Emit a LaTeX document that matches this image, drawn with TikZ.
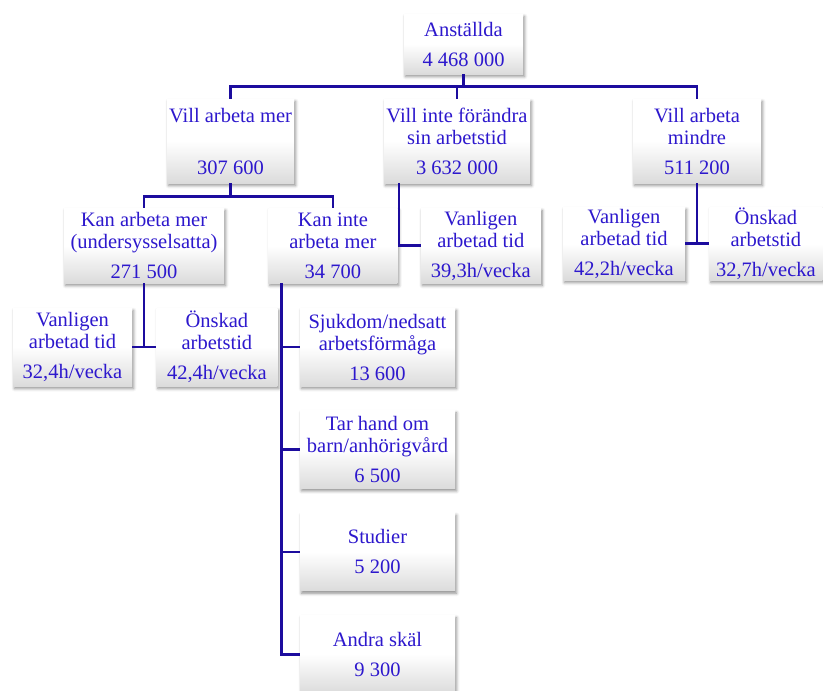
\documentclass[tikz,border=0pt]{standalone}
\usepackage{fontspec}
\setmainfont{Liberation Serif}
\usepackage{xcolor}
\usepackage{tikz}
\usetikzlibrary{shapes}
\usetikzlibrary{shadows}
\usetikzlibrary{shadows.blur}
\usetikzlibrary{positioning}

\definecolor{orgtext}{RGB}{45,24,205}
\definecolor{orgline}{RGB}{28,12,158}

\begin{document}
\begin{tikzpicture} [
            x=1pt, y=-1pt,
            % ----- Node definitions ----- %
            orgnode/.style = {
                rectangle,
                minimum width = #1,
                minimum height = 78pt,
                inner sep = 0pt,
                top color = white,
                bottom color = black!14,
                middle color = white,
                blur shadow = {shadow xshift=1.5pt, shadow yshift=-2.5pt,
                    shadow blur radius=3pt, shadow opacity=45},
                align = center,
                text = orgtext,
                font = \fontsize{20.5}{22}\selectfont
            },
            orglink/.style = {
                draw = orgline,
                line width = 2.6pt
            },
    ]
        \useasboundingbox (0,0) rectangle (823,691);

            % ----- Node constructions ----- %
        \node [orgnode=119pt, minimum height=60pt] (anst) at (463.5,44) {
                Anställda\\[8pt]4 468 000
        };

        \node [orgnode=127pt, minimum height=84pt] (mer) at (230.5,141) {
                Vill arbeta mer\\[30pt]307 600
        };
        \node [orgnode=146pt, minimum height=84pt] (same) at (457,141) {
                Vill inte förändra\\sin arbetstid\\[8pt]3 632 000
        };
        \node [orgnode=128pt, minimum height=84pt] (mindre) at (697,141) {
                Vill arbeta\\mindre\\[8pt]511 200
        };

        \node [orgnode=160pt, minimum height=75pt] (kanmer) at (144,245.5) {
                Kan arbeta mer\\(undersysselsatta)\\[8pt]271 500
        };
        \node [orgnode=129pt, minimum height=75pt, right=44pt of kanmer] (kaninte) {
                Kan inte\\arbeta mer\\[8pt]34 700
        };
        \node [orgnode=120pt, minimum height=75pt, right=23pt of kaninte] (sameVan) {
                Vanligen\\arbetad tid\\[8pt]39,3h/vecka
        };
        \node [orgnode=122pt, minimum height=73pt] (minVan) at (624,243.5) {
                Vanligen\\arbetad tid\\[8pt]42,2h/vecka
        };
        \node [orgnode=113pt, minimum height=73pt, right=24pt of minVan] (minOns) {
                Önskad\\arbetstid\\[8pt]32,7h/vecka
        };

        \node [orgnode=119pt] (merVan) at (72.5,347) {
                Vanligen\\arbetad tid\\[8pt]32,4h/vecka
        };
        \node [orgnode=121pt, right=24pt of merVan] (merOns) {
                Önskad\\arbetstid\\[8pt]42,4h/vecka
        };

        \node [orgnode=155pt] (sjuk) at (377.5,347) {
                Sjukdom/nedsatt\\arbetsförmåga\\[8pt]13 600
        };
        \node [orgnode=155pt, below=24pt of sjuk] (barn) {
                Tar hand om\\barn/anhörigvård\\[8pt]6 500
        };
        \node [orgnode=155pt, below=24pt of barn] (stud) {
                Studier\\[8pt]5 200
        };
        \node [orgnode=155pt, below=24pt of stud] (andra) {
                Andra skäl\\[8pt]9 300
        };

            % ----- Connections ----- %
        \draw [orglink] (anst.south) -- ++(0,12) coordinate (bus1);
        \draw [orglink] (mer.north) |- (bus1) -| (mindre.north);
        \draw [orglink] (same.north) -- (same.north |- bus1);

        \draw [orglink] (mer.south) -- ++(0,13) coordinate (bus2);
        \draw [orglink] (kanmer.north) |- (bus2) -| (kaninte.north);
        \draw [orglink] ([xshift=15pt]same.south west) |- (sameVan.west);

        \draw [orglink] (kanmer.south) -- (kanmer.south |- merVan.east);
        \draw [orglink] (merVan.east) -- (merOns.west);
        \draw [orglink] (mindre.south) -- (mindre.south |- minVan.east);
        \draw [orglink] (minVan.east) -- (minOns.west);

        \coordinate (kbar) at ([xshift=13pt]kaninte.south west);
        \draw [orglink] (kbar) |- (andra.west);
        \foreach \reason in {sjuk, barn, stud}
            \draw [orglink] (kbar |- \reason.west) -- (\reason.west);

\end{tikzpicture}
\end{document}
